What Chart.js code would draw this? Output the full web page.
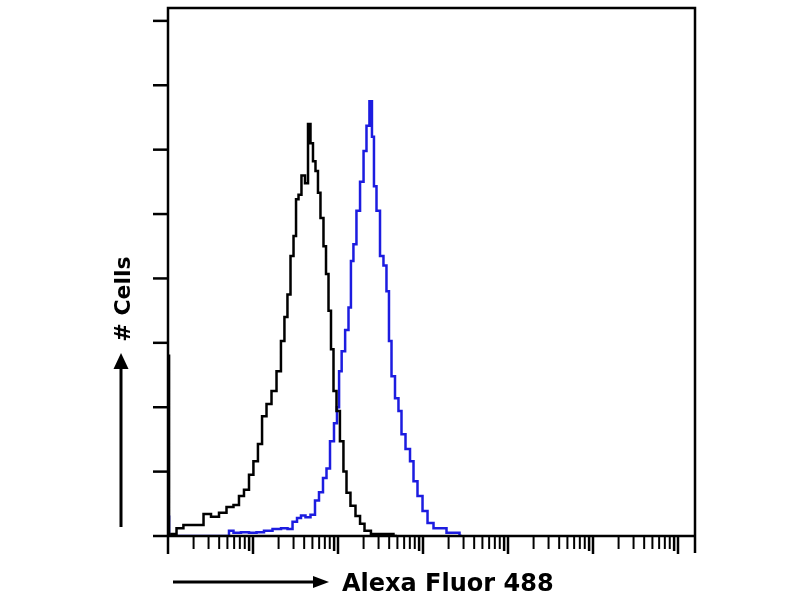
<!DOCTYPE html>
<html>
<head>
<meta charset="utf-8">
<script src="https://cdn.jsdelivr.net/npm/chart.js@4.4.1/dist/chart.umd.min.js"></script>
<style>
  html, body { margin: 0; padding: 0; background: #ffffff; }
  #wrap { position: relative; width: 800px; height: 600px; }
  canvas { display: block; }
</style>
</head>
<body>
<div id="wrap"><canvas id="c" width="800" height="600"></canvas></div>
<script>
// ---- data (Alexa Fluor 488 intensity, # cells in arbitrary units) ----
const blackX = [1, 1.06, 1.15, 1.38, 1.67, 2.38, 2.88, 3.57, 4.44, 5.36, 6.48, 7.22, 8.5, 9.47, 10.8, 12.1, 13.5, 15.4, 17.7, 20.2, 22.5, 24.4, 26.5, 28.8, 31.2, 33.0, 35.7, 38.7, 43.2, 45.6, 49.4, 52.2, 56.6, 59.7, 64.8, 70.3, 74.3, 80.5, 85.0, 92.2, 100, 111, 121, 131, 150, 172, 192, 219, 272, 409, 494];
const blackY = [2.8, 0, 0.03, 0.12, 0.17, 0.17, 0.34, 0.30, 0.36, 0.45, 0.48, 0.62, 0.72, 0.95, 1.16, 1.43, 1.86, 2.05, 2.25, 2.56, 3.03, 3.4, 3.75, 4.35, 4.66, 5.23, 5.3, 5.6, 5.48, 6.4, 6.1, 5.82, 5.67, 5.33, 4.94, 4.5, 4.07, 3.5, 2.9, 2.25, 1.94, 1.47, 1.0, 0.67, 0.47, 0.31, 0.19, 0.08, 0.03, 0.03, 0];

const blueX = [1, 1.06, 5.08, 5.36, 6.48, 8.05, 10, 12.1, 15.0, 19.2, 23.8, 27.3, 31.2, 34.8, 38.7, 44.4, 50.8, 56.6, 63.1, 70.3, 76.3, 85.0, 94.7, 100, 106, 115, 128, 138, 146, 158, 172, 192, 208, 225, 244, 258, 272, 296, 329, 357, 387, 409, 444, 494, 536, 582, 666, 743, 805, 922, 1057, 1209, 1462, 1718, 2080, 2512, 2878];
const blueY = [0.3, 0, 0, 0.08, 0.05, 0.06, 0.05, 0.06, 0.08, 0.11, 0.12, 0.11, 0.22, 0.28, 0.32, 0.29, 0.33, 0.55, 0.68, 0.9, 1.05, 1.47, 1.75, 2.0, 2.56, 2.87, 3.2, 3.55, 4.27, 4.53, 5.05, 5.5, 5.98, 6.37, 6.75, 6.2, 5.43, 5.05, 4.35, 4.2, 3.8, 3.03, 2.48, 2.14, 1.94, 1.58, 1.35, 1.16, 0.85, 0.62, 0.39, 0.2, 0.12, 0.12, 0.05, 0.05, 0];

const xMin = 1;
const xMax = 1585000;
const yMin = 0;
const yMax = 8.2;
const yTickValues = [0, 1, 2, 3, 4, 5, 6, 7, 8];
const xDecades = [1, 10, 100, 1000, 10000, 100000, 1000000];
const xMinorMultipliers = [2, 3, 4, 5, 6, 7, 8, 9];
const xTitle = 'Alexa Fluor 488';
const yTitle = '# Cells';

const toPoints = (xs, ys) => xs.map((x, i) => ({ x: x, y: ys[i] }));

const framePlugin = {
  id: 'framePlugin',
  afterDraw(chart) {
    const ctx = chart.ctx;
    const a = chart.chartArea;
    const xs = chart.scales.x;
    const ys = chart.scales.y;
    ctx.save();
    ctx.strokeStyle = '#000';
    ctx.fillStyle = '#000';
    ctx.lineCap = 'butt';

    // frame
    ctx.lineWidth = 2.5;
    ctx.beginPath();
    ctx.moveTo(a.left, a.bottom);
    ctx.lineTo(a.left, a.top);
    ctx.lineTo(a.right, a.top);
    ctx.lineTo(a.right, a.bottom + 17);
    ctx.moveTo(a.left - 1, a.bottom);
    ctx.lineTo(a.right, a.bottom);
    ctx.stroke();

    // y ticks (outside, left)
    ctx.lineWidth = 2.5;
    yTickValues.forEach(v => {
      const py = ys.getPixelForValue(v);
      ctx.beginPath();
      ctx.moveTo(a.left - 15, py);
      ctx.lineTo(a.left, py);
      ctx.stroke();
    });

    // x ticks (log, outside, bottom)
    xDecades.forEach(d => {
      const pxMaj = xs.getPixelForValue(d);
      if (d >= xMin && d <= xMax) {
        ctx.lineWidth = 2.5;
        ctx.beginPath();
        ctx.moveTo(pxMaj, a.bottom);
        ctx.lineTo(pxMaj, a.bottom + 18);
        ctx.stroke();
      }
      xMinorMultipliers.forEach(m => {
        const v = d * m;
        if (v > xMax) return;
        const px = xs.getPixelForValue(v);
        ctx.lineWidth = (m === 9) ? 2.5 : 2;
        ctx.beginPath();
        ctx.moveTo(px, a.bottom);
        ctx.lineTo(px, a.bottom + (m === 9 ? 15 : 13));
        ctx.stroke();
      });
    });

    // y arrow
    ctx.lineWidth = 3;
    ctx.beginPath();
    ctx.moveTo(121, 527);
    ctx.lineTo(121, 366);
    ctx.stroke();
    ctx.beginPath();
    ctx.moveTo(121, 353);
    ctx.lineTo(113.5, 369);
    ctx.lineTo(128.5, 369);
    ctx.closePath();
    ctx.fill();

    // x arrow
    ctx.beginPath();
    ctx.moveTo(173, 582);
    ctx.lineTo(316, 582);
    ctx.stroke();
    ctx.beginPath();
    ctx.moveTo(329, 582);
    ctx.lineTo(313, 576);
    ctx.lineTo(313, 588);
    ctx.closePath();
    ctx.fill();

    // titles
    ctx.font = 'bold 24px "DejaVu Sans"';
    ctx.textAlign = 'left';
    ctx.textBaseline = 'alphabetic';
    ctx.fillText(xTitle, 342, 591);

    ctx.save();
    ctx.translate(130, 299);
    ctx.rotate(-Math.PI / 2);
    ctx.font = 'bold 22px "DejaVu Sans"';
    ctx.textAlign = 'center';
    ctx.textBaseline = 'alphabetic';
    ctx.fillText(yTitle, 0, 0);
    ctx.restore();

    ctx.restore();
  }
};

new Chart(document.getElementById('c'), {
  type: 'line',
  data: {
    datasets: [
      {
        label: 'Control',
        data: toPoints(blackX, blackY),
        borderColor: '#000000',
        borderWidth: 2.5,
        pointRadius: 0,
        stepped: 'middle',
        fill: false
      },
      {
        label: 'Antibody',
        data: toPoints(blueX, blueY),
        borderColor: '#1c1ce0',
        borderWidth: 2.5,
        pointRadius: 0,
        stepped: 'middle',
        fill: false
      }
    ]
  },
  options: {
    responsive: false,
    devicePixelRatio: 1,
    animation: false,
    layout: { padding: { left: 168, top: 8, right: 105, bottom: 64 } },
    plugins: { legend: { display: false }, tooltip: { enabled: false } },
    scales: {
      x: { type: 'logarithmic', min: xMin, max: xMax, display: false },
      y: { type: 'linear', min: yMin, max: yMax, display: false }
    }
  },
  plugins: [framePlugin]
});
</script>
</body>
</html>
